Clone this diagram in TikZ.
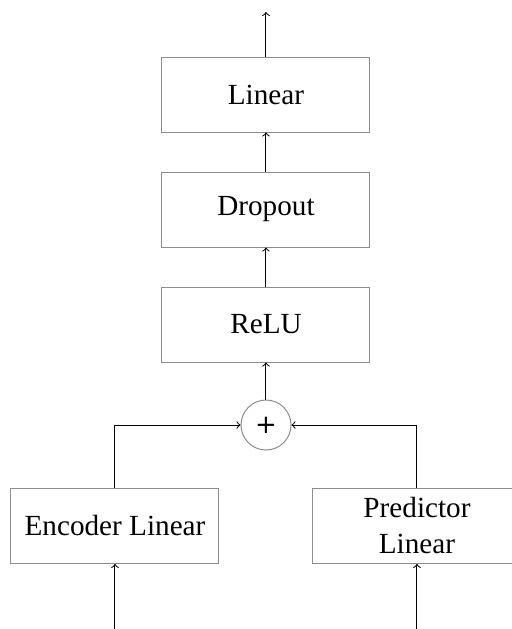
\documentclass[tikz,border=0pt]{standalone}
\usepackage{fontspec}
\setmainfont{Liberation Serif}
\newfontfamily\plusfont{DejaVu Sans}
\begin{document}
\begin{tikzpicture}[x=0.5pt,y=-0.5pt,
  blk/.style={draw=black!45,line width=0.5pt,minimum width=104pt,minimum height=37.5pt,inner sep=0pt,align=center,font=\fontsize{14.6}{18}\selectfont},
  sumnode/.style={draw=black!45,line width=0.5pt,circle,minimum size=25pt,inner sep=0pt,font=\plusfont\fontsize{13}{16}\selectfont},
  conn/.style={->,line width=0.5pt,black}]
\useasboundingbox (0,0) rectangle (511,629);
\node[blk] (lin) at (266,94.5) {Linear};
\node[blk] (drop) at (266,209.5) {Dropout};
\node[blk] (relu) at (266,324.5) {ReLU};
\node[sumnode] (plus) at (266,425) {+};
\node[blk] (enc) at (115,526) {Encoder Linear};
\node[blk] (pred) at (417,526) {Predictor\\Linear};
\coordinate (out) at (266,12);
\coordinate (encin) at (115,629);
\coordinate (predin) at (417,629);
\draw[conn] (lin.north) -- (out);
\draw[conn] (drop.north) -- (lin.south);
\draw[conn] (relu.north) -- (drop.south);
\draw[conn] (plus.north) -- (relu.south);
\draw[conn] (enc.north) |- (plus.west);
\draw[conn] (pred.north) |- (plus.east);
\draw[conn] (encin) -- (enc.south);
\draw[conn] (predin) -- (pred.south);
\end{tikzpicture}
\end{document}
